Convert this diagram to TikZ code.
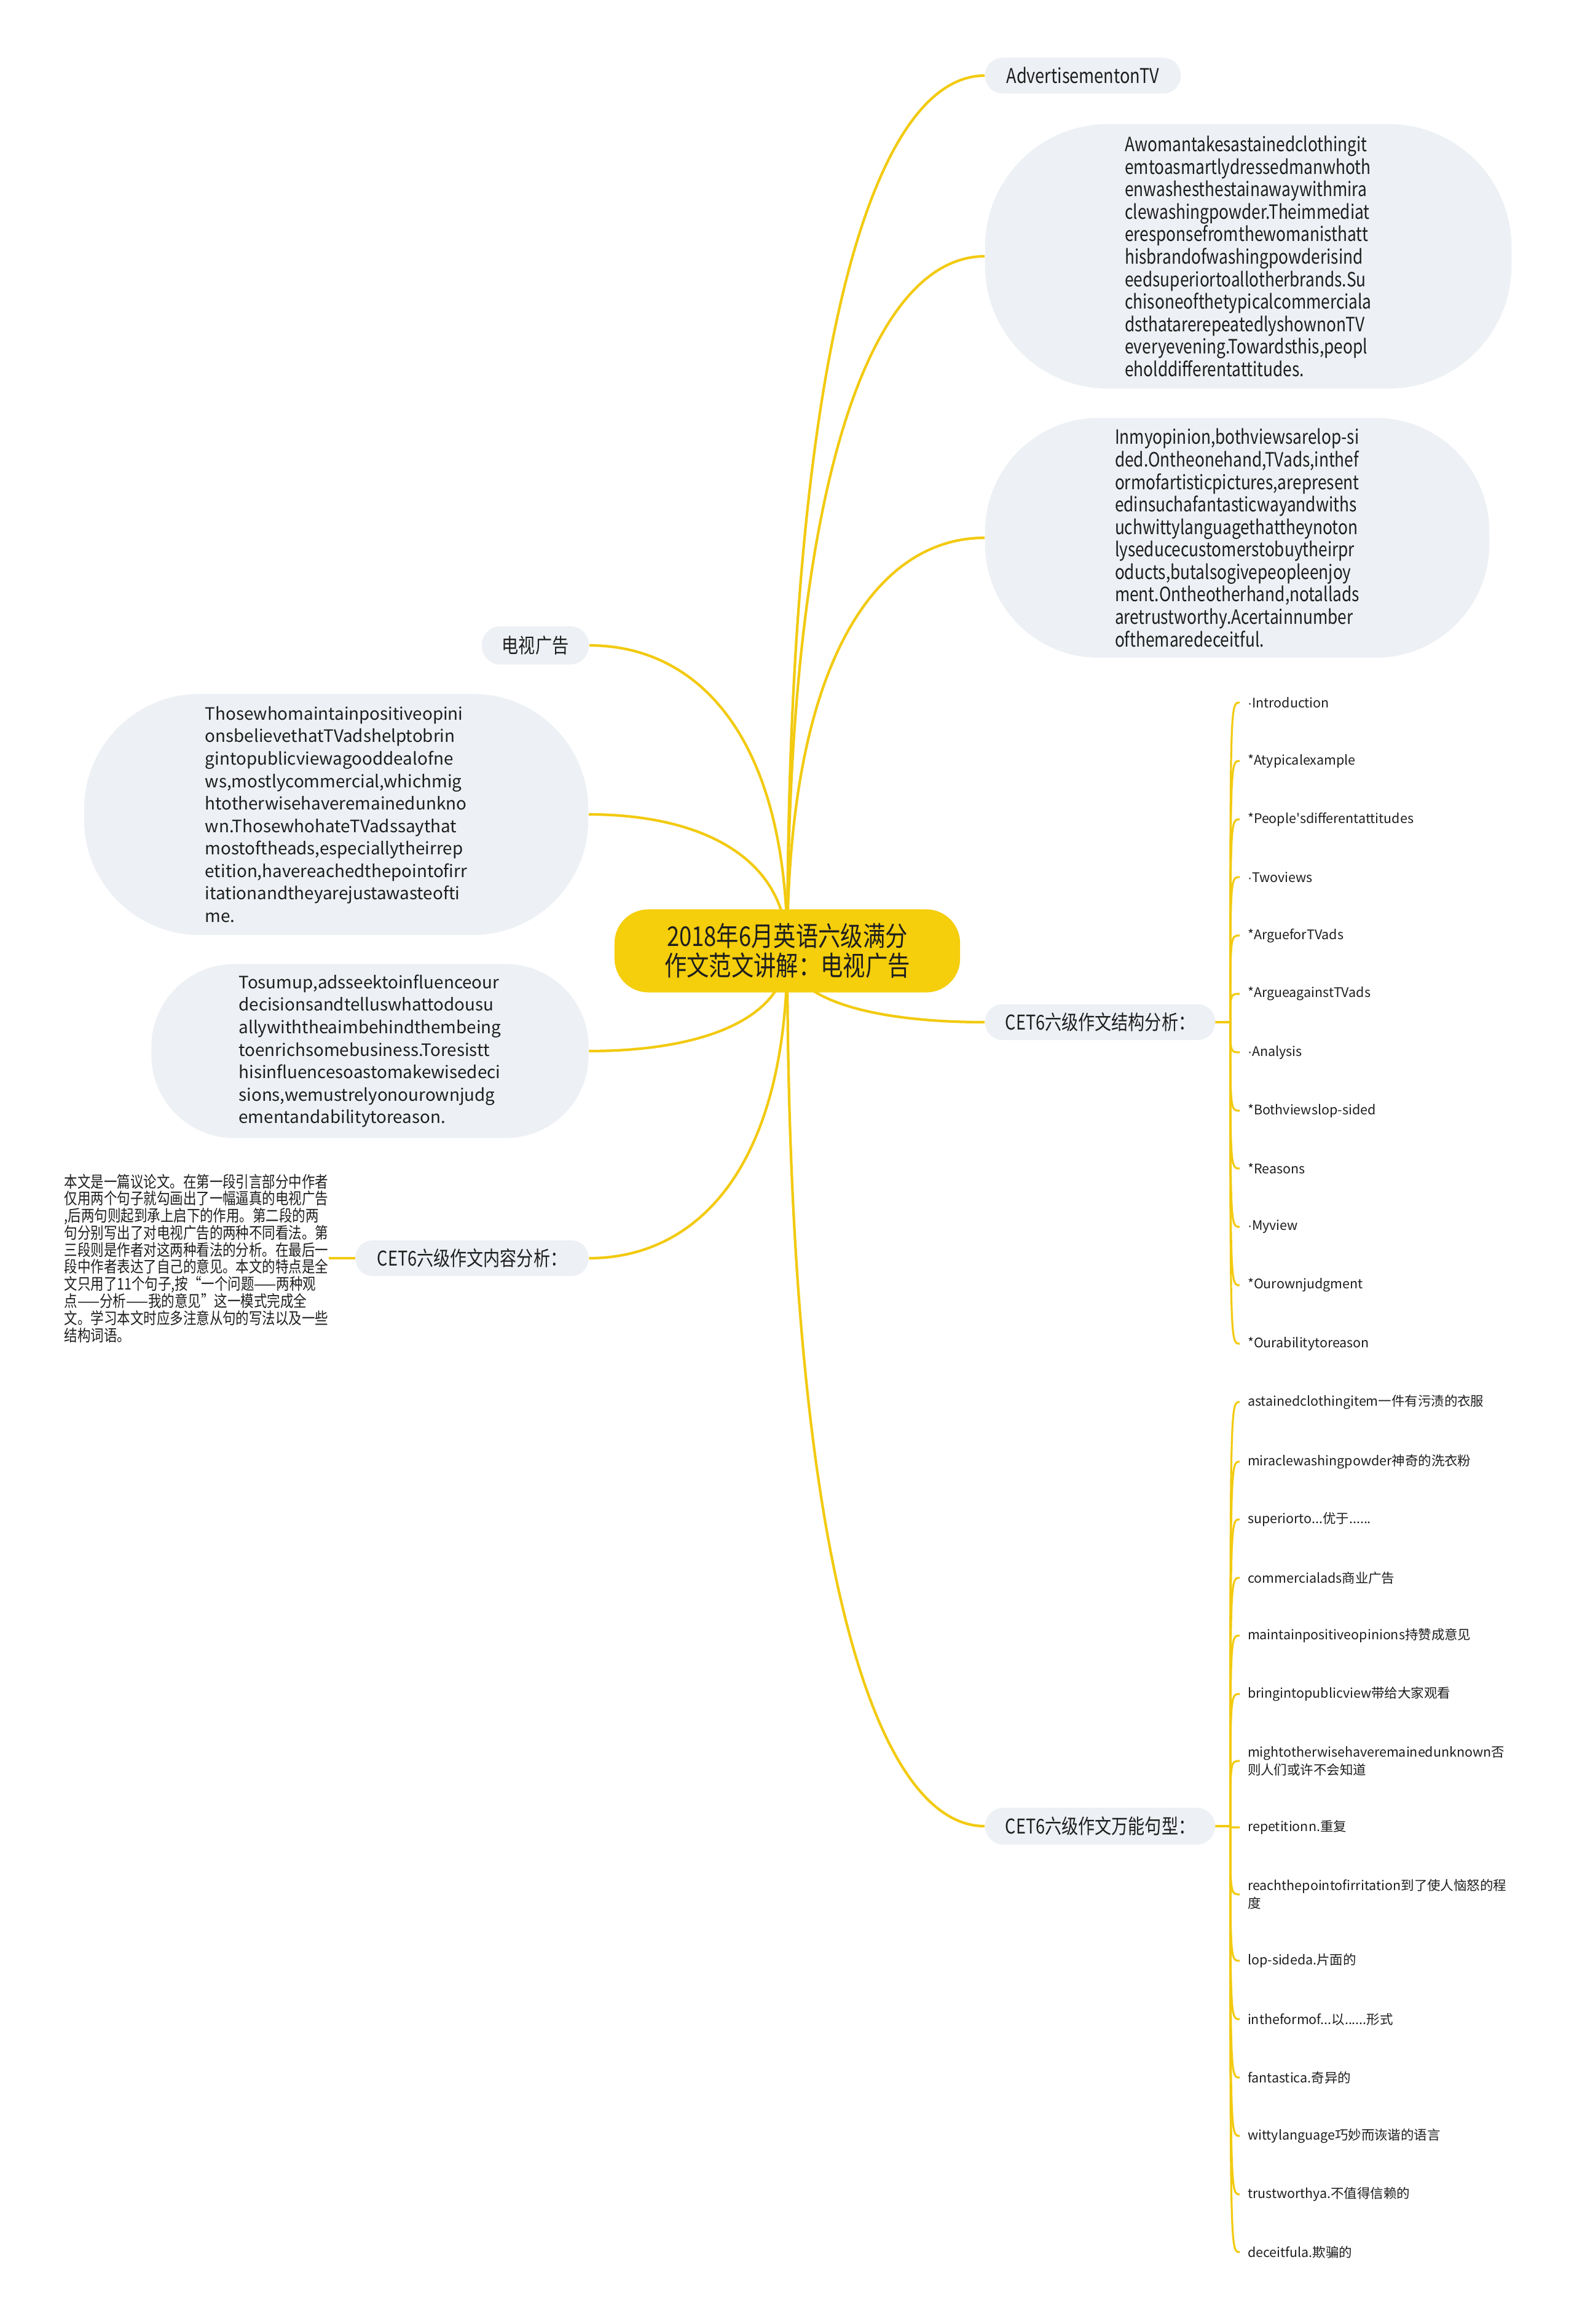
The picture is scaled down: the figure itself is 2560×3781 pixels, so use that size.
\documentclass[tikz,border=0pt]{standalone}
\usepackage{fontspec}
\setmainfont{Noto Sans CJK SC}
\newfontfamily\narrowfont{Noto Sans CJK SC}[FakeStretch=0.82]
\newfontfamily\dotfont{Liberation Sans}
\newcommand{\middot}{{\dotfont ·}}
\usetikzlibrary{positioning,backgrounds,calc}

\definecolor{branchyellow}{RGB}{242,202,16}
\definecolor{rootyellow}{RGB}{245,206,12}
\definecolor{bubblegray}{RGB}{237,240,244}
\definecolor{inktext}{RGB}{30,30,30}

\begin{document}
\begin{tikzpicture}[
    x=0.01cm, y=-0.01cm,
    text=inktext,
    root/.style={fill=rootyellow, rounded corners=0.55cm, minimum width=5.62cm, minimum height=1.35cm, align=center, font=\narrowfont\fontsize{12.6}{13.7}\selectfont},
    topic/.style={fill=bubblegray, rounded corners=0.28cm, minimum height=0.58cm, inner xsep=0pt, font=\narrowfont\fontsize{9.4}{11}\selectfont},
    bubble/.style={fill=bubblegray, align=left, inner sep=0pt, font=\narrowfont\fontsize{9.1}{10.4}\selectfont},
    leftbubble/.style={fill=bubblegray, align=left, inner sep=0pt, font=\fontsize{7.9}{10.4}\selectfont},
    note/.style={align=left, inner sep=0pt, font=\narrowfont\fontsize{7.45}{7.9}\selectfont},
    item/.style={anchor=west, inner xsep=3.5pt, inner ysep=1pt, align=left, font=\fontsize{6.1}{8.2}\selectfont},
    branch/.style={draw=branchyellow, line width=1.2pt},
    twig/.style={draw=branchyellow, line width=0.9pt}
]
\useasboundingbox (0,0) rectangle (2560,3781);

% centre
\node[root] (root) at (1281,1547) {2018年6月英语六级满分\\作文范文讲解：电视广告};

% right side, upper
\node[topic, minimum width=3.18cm] (adv) at (1762,123) {AdvertisementonTV};
\node[bubble, minimum width=8.56cm, minimum height=4.3cm, rounded corners=2cm] (p1) at (2031,417) {Awomantakesastainedclothingit\\emtoasmartlydressedmanwhoth\\enwashesthestainawaywithmira\\clewashingpowder.Theimmediat\\eresponsefromthewomanisthatt\\hisbrandofwashingpowderisind\\eedsuperiortoallotherbrands.Su\\chisoneofthetypicalcommerciala\\dsthatarerepeatedlyshownonTV\\everyevening.Towardsthis,peopl\\eholddifferentattitudes.};
\node[bubble, minimum width=8.2cm, minimum height=3.9cm, rounded corners=1.85cm] (p2) at (2013,875) {Inmyopinion,bothviewsarelop-si\\ded.Ontheonehand,TVads,inthef\\ormofartisticpictures,arepresent\\edinsuchafantasticwayandwiths\\uchwittylanguagethattheynoton\\lyseducecustomerstobuytheirpr\\oducts,butalsogivepeopleenjoy\\ment.Ontheotherhand,notallads\\aretrustworthy.Acertainnumber\\ofthemaredeceitful.};

% left side
\node[topic, minimum width=1.74cm, minimum height=0.62cm, rounded corners=0.3cm] (tv) at (871,1050) {电视广告};
\node[leftbubble, minimum width=8.2cm, minimum height=3.92cm, rounded corners=1.88cm] (thos) at (547,1325) {Thosewhomaintainpositiveopini\\onsbelievethatTVadshelptobrin\\gintopublicviewagooddealofne\\ws,mostlycommercial,whichmig\\htotherwisehaveremainedunkno\\wn.ThosewhohateTVadssaythat\\mostoftheads,especiallytheirrep\\etition,havereachedthepointofirr\\itationandtheyarejustawasteofti\\me.};
\node[leftbubble, minimum width=7.11cm, minimum height=2.83cm, rounded corners=1.35cm] (sumup) at (602,1710) {Tosumup,adsseektoinfluenceour\\decisionsandtelluswhattodousu\\allywiththeaimbehindthembeing\\toenrichsomebusiness.Toresistt\\hisinfluencesoastomakewisedeci\\sions,wemustrelyonourownjudg\\ementandabilitytoreason.};
\node[topic, minimum width=3.79cm] (neirong) at (768,2047) {CET6六级作文内容分析：};
\node[note, anchor=west] (cn) at (104,2047) {本文是一篇议论文。在第一段引言部分中作者\\仅用两个句子就勾画出了一幅逼真的电视广告\\,后两句则起到承上启下的作用。第二段的两\\句分别写出了对电视广告的两种不同看法。第\\三段则是作者对这两种看法的分析。在最后一\\段中作者表达了自己的意见。本文的特点是全\\文只用了11个句子,按“一个问题——两种观\\点——分析——我的意见”这一模式完成全\\文。学习本文时应多注意从句的写法以及一些\\结构词语。};

% structure analysis
\node[topic, minimum width=3.74cm] (struct) at (1790,1663) {CET6六级作文结构分析：};
\node[item] (s1) at (2017,1143) {\middot Introduction};
\node[item] (s2) at (2017,1238) {*Atypicalexample};
\node[item] (s3) at (2017,1333) {*People\textquotesingle sdifferentattitudes};
\node[item] (s4) at (2017,1427) {\middot Twoviews};
\node[item] (s5) at (2017,1522) {*ArgueforTVads};
\node[item] (s6) at (2017,1617) {*ArgueagainstTVads};
\node[item] (s7) at (2017,1712) {\middot Analysis};
\node[item] (s8) at (2017,1807) {*Bothviewslop-sided};
\node[item] (s9) at (2017,1901) {*Reasons};
\node[item] (s10) at (2017,1996) {\middot Myview};
\node[item] (s11) at (2017,2091) {*Ourownjudgment};
\node[item] (s12) at (2017,2186) {*Ourabilitytoreason};

% useful phrases
\node[topic, minimum width=3.74cm, minimum height=0.6cm, rounded corners=0.3cm] (wanneng) at (1790,2971) {CET6六级作文万能句型：};
\node[item] (w1) at (2017,2281) {astainedclothingitem一件有污渍的衣服};
\node[item] (w2) at (2017,2378) {miraclewashingpowder神奇的洗衣粉};
\node[item] (w3) at (2017,2472) {superiorto...优于......};
\node[item] (w4) at (2017,2567) {commercialads商业广告};
\node[item] (w5) at (2017,2661) {maintainpositiveopinions持赞成意见};
\node[item] (w6) at (2017,2756) {bringintopublicview带给大家观看};
\node[item] (w7) at (2017,2865) {mightotherwisehaveremainedunknown否\\则人们或许不会知道};
\node[item] (w8) at (2017,2973) {repetitionn.重复};
\node[item] (w9) at (2017,3082) {reachthepointofirritation到了使人恼怒的程\\度};
\node[item] (w10) at (2017,3190) {lop-sideda.片面的};
\node[item] (w11) at (2017,3285) {intheformof...以......形式};
\node[item] (w12) at (2017,3380) {fantastica.奇异的};
\node[item] (w13) at (2017,3475) {wittylanguage巧妙而诙谐的语言};
\node[item] (w14) at (2017,3570) {trustworthya.不值得信赖的};
\node[item] (w15) at (2017,3664) {deceitfula.欺骗的};

\begin{scope}[on background layer]
\fill[white] (0,0) rectangle (2560,3781);

\foreach \n in {adv,p1,p2,struct,wanneng}
  \draw[branch] (root.center) .. controls ($(root.center)!0.7!(root.center |- \n.west)$) and ($(\n.west)!0.55!(root.center |- \n.west)$) .. (\n.west);
\foreach \n in {tv,thos,sumup,neirong}
  \draw[branch] (root.center) .. controls ($(root.center)!0.7!(root.center |- \n.east)$) and ($(\n.east)!0.55!(root.center |- \n.east)$) .. (\n.east);

\draw[branch] (neirong.west) -- (cn.east);

\coordinate (sj) at ($(struct.east)+(24,0)$);
\foreach \i in {1,...,12}
  \draw[twig] (struct.east) -- (sj) .. controls (sj |- s\i.west) .. (s\i.west);

\coordinate (wj) at ($(wanneng.east)+(24,0)$);
\foreach \i in {1,...,15}
  \draw[twig] (wanneng.east) -- (wj) .. controls (wj |- w\i.west) .. (w\i.west);
\end{scope}

\end{tikzpicture}
\end{document}
